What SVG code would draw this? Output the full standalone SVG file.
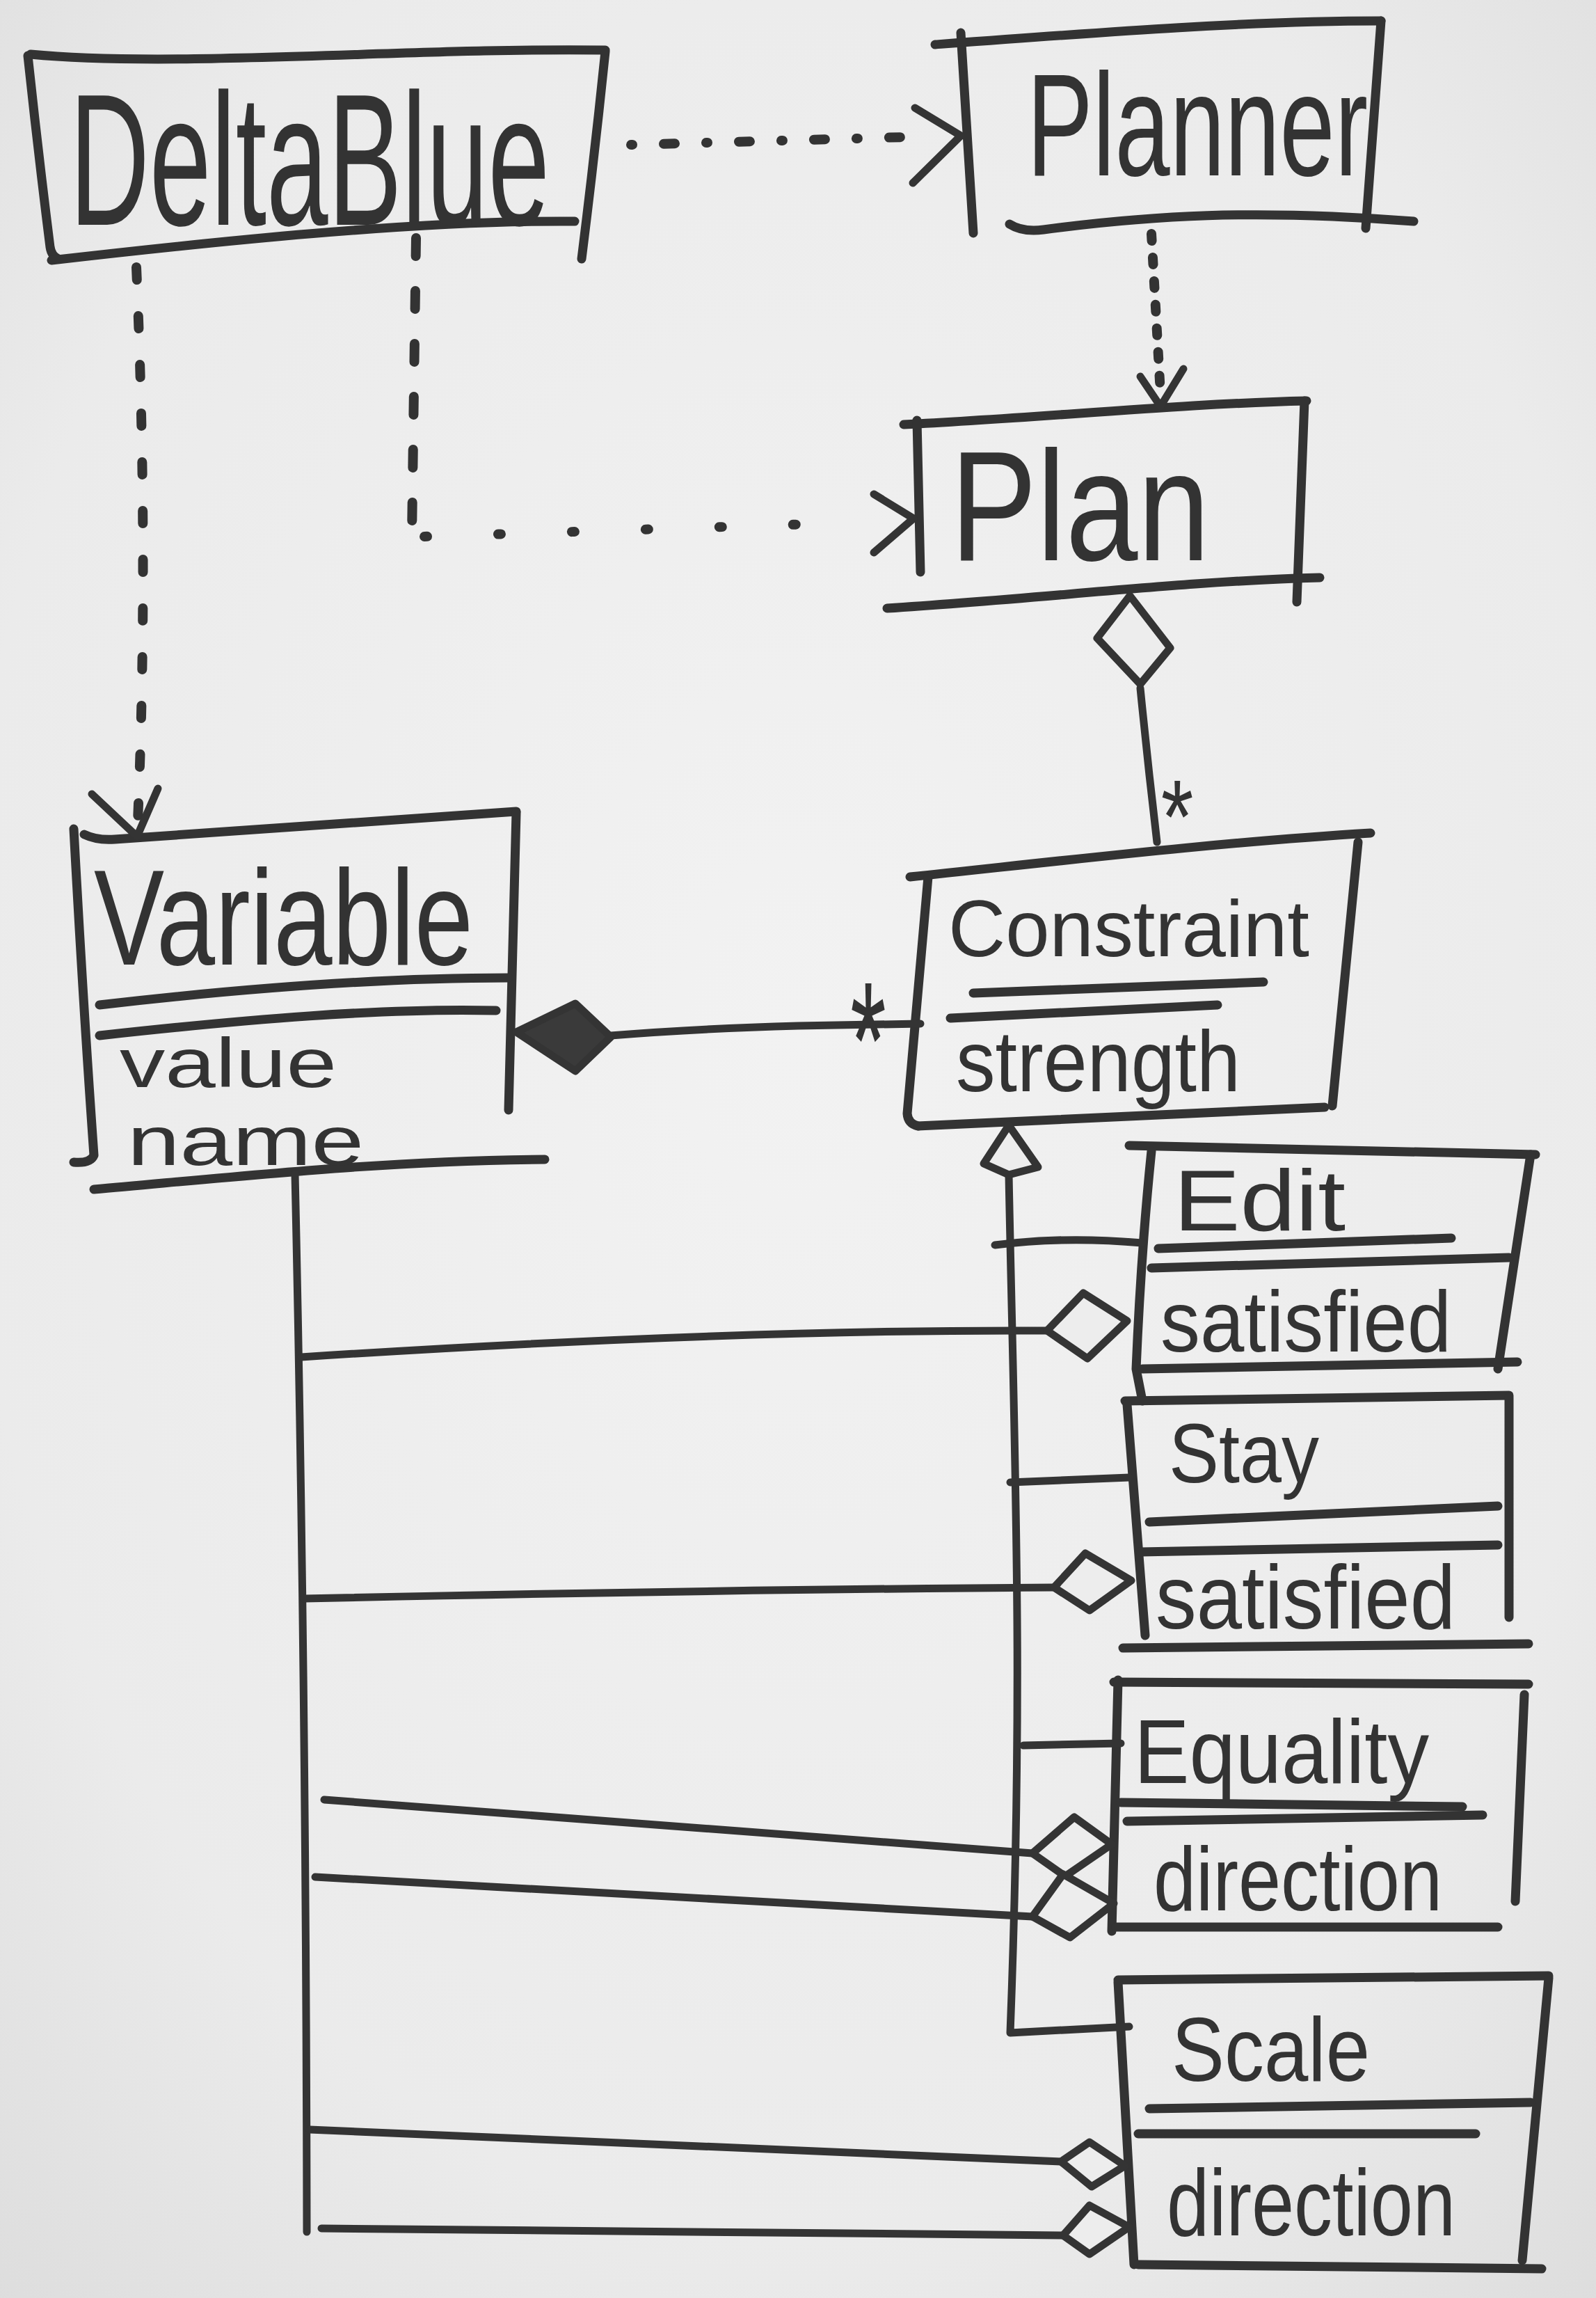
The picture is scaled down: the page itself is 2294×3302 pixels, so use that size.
<svg xmlns="http://www.w3.org/2000/svg" width="2294" height="3302" viewBox="0 0 2294 3302">
<defs>
<radialGradient id="paper" cx="50%" cy="45%" r="75%">
<stop offset="0" stop-color="#f2f2f2"/>
<stop offset="0.7" stop-color="#ebebeb"/>
<stop offset="1" stop-color="#dddddd"/>
</radialGradient>
<style>
.ln{fill:none;stroke:#343434;stroke-width:11;stroke-linecap:round;stroke-linejoin:round}
.bx{fill:none;stroke:#333;stroke-width:13;stroke-linecap:round;stroke-linejoin:round}
.dot{fill:none;stroke:#333;stroke-width:14;stroke-linecap:round}
.hd{fill:#ededed;stroke:#343434;stroke-width:11;stroke-linejoin:round}
.fd{fill:#3a3a3a;stroke:#343434;stroke-width:11;stroke-linejoin:round}
.t{font-family:"Liberation Sans",Arial,sans-serif;fill:#333}
</style>
</defs>
<rect x="0" y="0" width="2294" height="3302" fill="url(#paper)"/>

<g id="node-deltablue">
<path class="bx" d="M44,78 C250,98 600,68 870,72"/>
<path class="bx" d="M40,80 Q55,220 72,355 Q74,368 84,372"/>
<path class="bx" d="M74,374 C300,348 600,316 826,318"/>
<path class="bx" d="M870,74 Q855,220 836,372"/>
<text class="t" x="100" y="323" font-size="270" textLength="690" lengthAdjust="spacingAndGlyphs">DeltaBlue</text>
</g>

<g id="node-planner">
<path class="bx" d="M1344,64 C1600,45 1800,30 1985,30"/>
<path class="bx" d="M1381,47 L1399,335"/>
<path class="bx" d="M1985,30 L1963,328"/>
<path class="bx" d="M1451,322 Q1470,334 1500,330 C1650,310 1800,300 2032,318"/>
<text class="t" x="1476" y="252" font-size="210" textLength="490" lengthAdjust="spacingAndGlyphs">Planner</text>
</g>

<g id="node-plan">
<path class="bx" d="M1299,610 C1500,600 1700,580 1878,576"/>
<path class="bx" d="M1318,604 L1323,822"/>
<path class="bx" d="M1875,576 L1864,865"/>
<path class="bx" d="M1275,874 C1500,860 1700,835 1897,830"/>
<text class="t" x="1366" y="805" font-size="225" textLength="373" lengthAdjust="spacingAndGlyphs">Plan</text>
</g>

<g id="node-variable">
<path class="bx" d="M121,1199 Q140,1208 165,1206 L742,1166"/>
<path class="bx" d="M106,1191 Q120,1450 135,1660 Q130,1672 106,1670"/>
<path class="bx" d="M742,1168 L731,1595"/>
<path class="bx" d="M143,1444 C350,1420 550,1405 731,1405"/>
<path class="bx" d="M143,1488 C350,1465 550,1448 713,1452"/>
<path class="bx" d="M135,1709 C350,1690 550,1668 783,1666"/>
<text class="t" x="135" y="1386" font-size="195" textLength="545" lengthAdjust="spacingAndGlyphs">Variable</text>
<text class="t" x="172" y="1562" font-size="100" textLength="312" lengthAdjust="spacingAndGlyphs">value</text>
<text class="t" x="183" y="1674" font-size="100" textLength="340" lengthAdjust="spacingAndGlyphs">name</text>
</g>

<g id="node-constraint">
<path class="bx" d="M1308,1260 C1500,1240 1750,1210 1970,1197"/>
<path class="bx" d="M1334,1260 L1304,1600 Q1305,1615 1320,1618"/>
<path class="bx" d="M1319,1618 C1500,1610 1700,1600 1904,1591"/>
<path class="bx" d="M1952,1210 L1915,1589"/>
<path class="bx" d="M1399,1427 L1816,1411"/>
<path class="bx" d="M1366,1463 L1750,1444"/>
<text class="t" x="1363" y="1374" font-size="115" textLength="519" lengthAdjust="spacingAndGlyphs">Constraint</text>
<text class="t" x="1374" y="1568" font-size="125" textLength="409" lengthAdjust="spacingAndGlyphs">strength</text>
</g>

<g id="node-edit">
<path class="bx" d="M1623,1646 L2207,1659"/>
<path class="bx" d="M1655,1654 Q1640,1800 1633,1967 L1642,2013"/>
<path class="bx" d="M2200,1659 L2153,1967"/>
<path class="bx" d="M1665,1794 L2086,1779"/>
<path class="bx" d="M1655,1822 L2169,1807"/>
<path class="bx" d="M1642,1967 L2181,1957"/>
<text class="t" x="1687" y="1768" font-size="125" textLength="247" lengthAdjust="spacingAndGlyphs">Edit</text>
<text class="t" x="1668" y="1942" font-size="125" textLength="418" lengthAdjust="spacingAndGlyphs">satisfied</text>
</g>

<g id="node-stay">
<path class="bx" d="M1617,2013 L2169,2005"/>
<path class="bx" d="M1620,2018 L1646,2350"/>
<path class="bx" d="M2169,2008 L2169,2324"/>
<path class="bx" d="M1652,2187 L2153,2164"/>
<path class="bx" d="M1639,2230 L2153,2220"/>
<path class="bx" d="M1614,2368 L2197,2362"/>
<text class="t" x="1680" y="2130" font-size="120" textLength="216" lengthAdjust="spacingAndGlyphs">Stay</text>
<text class="t" x="1661" y="2340" font-size="130" textLength="431" lengthAdjust="spacingAndGlyphs">satisfied</text>
</g>

<g id="node-equality">
<path class="bx" d="M1601,2417 L2197,2420"/>
<path class="bx" d="M1607,2414 L1598,2775"/>
<path class="bx" d="M2191,2435 L2178,2732"/>
<path class="bx" d="M1611,2590 L2102,2596"/>
<path class="bx" d="M1620,2617 L2131,2608"/>
<path class="bx" d="M1604,2769 L2153,2769"/>
<text class="t" x="1630" y="2562" font-size="130" textLength="424" lengthAdjust="spacingAndGlyphs">Equality</text>
<text class="t" x="1658" y="2745" font-size="130" textLength="415" lengthAdjust="spacingAndGlyphs">direction</text>
</g>

<g id="node-scale">
<path class="bx" d="M1607,2845 L2226,2839"/>
<path class="bx" d="M1607,2848 L1630,3254"/>
<path class="bx" d="M2226,2842 L2188,3248"/>
<path class="bx" d="M1652,3030 L2200,3021"/>
<path class="bx" d="M1636,3066 L2121,3066"/>
<path class="bx" d="M1636,3254 L2216,3260"/>
<text class="t" x="1684" y="2990" font-size="130" textLength="285" lengthAdjust="spacingAndGlyphs">Scale</text>
<text class="t" x="1677" y="3212" font-size="135" textLength="415" lengthAdjust="spacingAndGlyphs">direction</text>
</g>

<g id="connectors">
<!-- DeltaBlue -> Planner -->
<path class="dot" d="M907,208 L1300,197" stroke-dasharray="2 45 16 45"/>
<path class="ln" d="M1315,155 L1381,195 L1312,263"/>
<!-- Planner -> Plan -->
<path class="dot" d="M1655,336 L1668,565" stroke-dasharray="10 24"/>
<path class="ln" d="M1639,541 L1668,584 L1701,530"/>
<!-- DeltaBlue -> Plan -->
<path class="dot" d="M598,342 L592,771" stroke-dasharray="26 50"/>
<path class="dot" d="M610,771 L1165,753" stroke-dasharray="4 102"/>
<path class="ln" d="M1256,710 L1313,745 L1256,794"/>
<!-- DeltaBlue -> Variable -->
<path class="dot" d="M196,384 Q214,800 198,1180" stroke-dasharray="18 52"/>
<path class="ln" d="M132,1141 L197,1202 L227,1133"/>
<!-- Plan <>- Constraint -->
<path class="ln" d="M1639,989 Q1650,1100 1663,1210"/>
<polygon class="hd" points="1624,856 1682,931 1639,983 1577,917"/>
<text class="t" transform="translate(1692,1226) scale(0.8,1)" font-size="150" text-anchor="middle">*</text>
<!-- Variable <#>- Constraint -->
<path class="ln" d="M878,1488 Q1000,1478 1147,1474 L1323,1471"/>
<polygon class="fd" points="742,1483 827,1442 878,1490 827,1539"/>
<text class="t" transform="translate(1248,1578) scale(0.55,1)" font-size="240" text-anchor="middle">*</text>
<!-- Inheritance tree -->
<path class="ln" d="M1450,1688 C1458,2100 1472,2400 1452,2921 L1623,2912"/>
<path class="ln" d="M1430,1789 Q1530,1776 1642,1786"/>
<path class="ln" d="M1452,2130 L1623,2123"/>
<path class="ln" d="M1471,2508 L1611,2505"/>
<polygon class="hd" points="1450,1617 1492,1677 1450,1688 1414,1672"/>
<!-- Variable associations -->
<path class="ln" d="M424,1687 Q440,2400 441,3207"/>
<path class="ln" d="M433,1950 Q1046,1910 1505,1912"/>
<polygon class="hd" points="1505,1912 1557,1858 1620,1898 1563,1952"/>
<path class="ln" d="M437,2297 Q1046,2284 1515,2281"/>
<polygon class="hd" points="1515,2281 1560,2232 1626,2271 1566,2314"/>
<path class="ln" d="M466,2586 L1484,2663"/>
<polygon class="hd" points="1484,2663 1544,2611 1598,2650 1531,2696"/>
<path class="ln" d="M453,2697 L1484,2754"/>
<polygon class="hd" points="1484,2754 1528,2693 1601,2735 1538,2784"/>
<path class="ln" d="M445,3060 L1525,3106"/>
<polygon class="hd" points="1525,3106 1566,3078 1617,3112 1569,3142"/>
<path class="ln" d="M462,3202 L1528,3212"/>
<polygon class="hd" points="1528,3212 1566,3169 1623,3200 1566,3239"/>
</g>
</svg>
